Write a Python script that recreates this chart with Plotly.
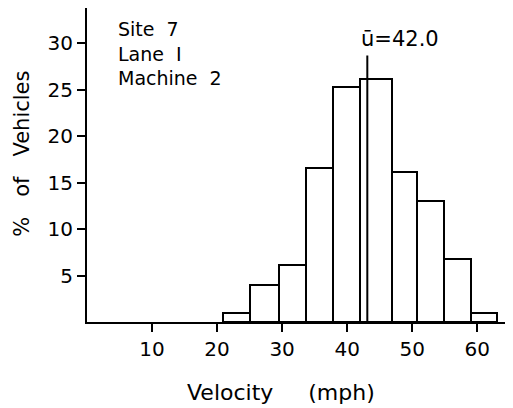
import plotly.graph_objects as go

# Data
bin_edges = [20.9, 25.0, 29.5, 33.7, 37.9, 41.9, 46.9, 50.8, 54.9, 59.0, 63.0]
percent_vehicles = [1.0, 4.0, 6.1, 16.6, 25.3, 26.2, 16.2, 13.0, 6.8, 1.0]
x_ticks = [10, 20, 30, 40, 50, 60]
y_ticks = [5, 10, 15, 20, 25, 30]
mean_line_x = 43.1
mean_line_top = 28.7
mean_label = "ū=42.0"
info_lines = ["Site  7", "Lane  I", "Machine  2"]

centers = [(a + b) / 2 for a, b in zip(bin_edges[:-1], bin_edges[1:])]
widths = [b - a for a, b in zip(bin_edges[:-1], bin_edges[1:])]

FONT = "DejaVu Sans"

fig = go.Figure()
fig.add_trace(go.Bar(
    x=centers, y=percent_vehicles, width=widths,
    marker=dict(color="white", line=dict(color="black", width=2)),
    showlegend=False, hoverinfo="skip",
))

fig.add_shape(type="line", xref="x", yref="y",
              x0=mean_line_x, x1=mean_line_x, y0=0, y1=mean_line_top,
              line=dict(color="black", width=2))

fig.add_annotation(x=mean_line_x, y=30.5, xref="x", yref="y",
                   text=mean_label, showarrow=False, xanchor="left", yanchor="middle",
                   xshift=-8, font=dict(family=FONT, size=21, color="black"))

fig.add_annotation(x=4.5, y=0.975, xref="x", yref="paper",
                   text="<br>".join(info_lines), showarrow=False, align="left",
                   xanchor="left", yanchor="top",
                   font=dict(family=FONT, size=19, color="black"))

fig.add_annotation(x=0.455, y=-0.226, xref="paper", yref="paper",
                   text="Velocity     (mph)", showarrow=False,
                   xanchor="center", yanchor="middle",
                   font=dict(family=FONT, size=22, color="black"))

fig.add_annotation(x=-0.153, y=0.535, xref="paper", yref="paper",
                   text="%   of   Vehicles", showarrow=False, textangle=-90,
                   xanchor="center", yanchor="middle",
                   font=dict(family=FONT, size=21, color="black"))

fig.update_xaxes(range=[0, 65.5], tickvals=x_ticks, ticks="outside", ticklen=8,
                 tickwidth=2, tickcolor="black", showline=True, linecolor="black",
                 linewidth=2, showgrid=False, zeroline=False, automargin=False,
                 tickfont=dict(family=FONT, size=20, color="black"))
fig.update_yaxes(range=[0, 33.8], tickvals=y_ticks, ticks="outside", ticklen=8,
                 tickwidth=2, tickcolor="black", showline=True, linecolor="black",
                 linewidth=2, showgrid=False, zeroline=False, automargin=False,
                 tickfont=dict(family=FONT, size=20, color="black"))

# the page body adds an 8 px offset, so the figure is 8 px smaller each way
fig.update_layout(
    width=505, height=400,
    margin=dict(l=79, r=0, t=0, b=86),
    plot_bgcolor="white", paper_bgcolor="white",
    bargap=0,
)

fig.write_html("out.html")
